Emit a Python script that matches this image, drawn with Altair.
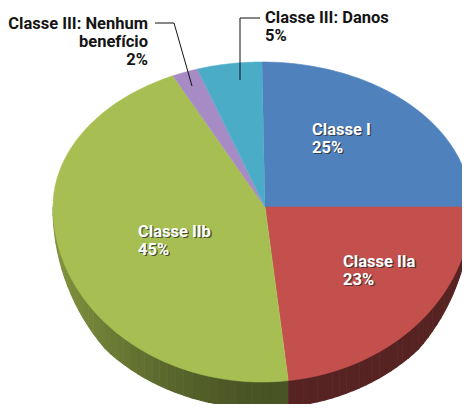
import altair as alt
import pandas as pd

# ---- data ----
categories = ["Classe I", "Classe IIa", "Classe IIb",
              "Classe III: Nenhum benefício", "Classe III: Danos"]
values = [25, 23, 45, 2, 5]
pct_labels = ["25%", "23%", "45%", "2%", "5%"]

# ---- styles ----
top_colors = ["#4f81bd", "#c4504d", "#a7bf52", "#a68bc4", "#4bacc8"]
base_rgb = [(79, 129, 189), (196, 80, 77), (167, 191, 82), (166, 139, 196), (75, 172, 200)]

# ---- layout (window pixel coordinates) ----
W, H = 454, 396
CX, CY = 262, 207       # ellipse centre
AX, AY = 265, 207       # apex of slices
RX, RYT, RYB = 209, 145, 175
THICK = 26
N = 60   # points per arc
M = 40   # side segments per slice

xs = alt.Scale(domain=[8, 8 + W], nice=False, zero=False)
ys = alt.Scale(domain=[8, 8 + H], nice=False, zero=False, reverse=True)

df = pd.DataFrame({
    "cat": categories,
    "value": values,
    "ord": list(range(len(values))),
    "r": [c[0] for c in base_rgb],
    "g": [c[1] for c in base_rgb],
    "b": [c[2] for c in base_rgb],
})

base = (
    alt.Chart(df)
    .transform_window(cum="sum(value)", sort=[{"field": "ord"}], frame=[None, 0])
    .transform_joinaggregate(total="sum(value)")
    .transform_calculate(
        a1="2*PI*(datum.cum-datum.value)/datum.total",
        a2="2*PI*datum.cum/datum.total",
    )
)

# top faces
top = (
    base.transform_calculate(k=f"sequence(-1, {N + 1})")
    .transform_flatten(["k"])
    .transform_calculate(
        t=f"datum.a1 + (datum.a2-datum.a1)*datum.k/{N}",
    )
    .transform_calculate(
        px=f"datum.k < 0 ? {AX} : {CX} + {RX}*sin(datum.t)",
        py=f"datum.k < 0 ? {AY} : {CY} - (cos(datum.t) > 0 ? {RYT} : {RYB})*cos(datum.t)",
    )
    .mark_line(filled=True, clip=True, strokeWidth=0.6)
    .encode(
        x=alt.X("px:Q", scale=xs, axis=None),
        y=alt.Y("py:Q", scale=ys, axis=None),
        color=alt.Color("cat:N", scale=alt.Scale(domain=categories, range=top_colors), legend=None),
        stroke=alt.Stroke("cat:N", scale=alt.Scale(domain=categories, range=top_colors), legend=None),
        order=alt.Order("k:Q"),
    )
)

# side wall (visible lower half), tapering toward the far left/right
side = (
    base.transform_calculate(
        s="max(datum.a1, PI/2)",
        e="min(datum.a2, 3*PI/2)",
    )
    .transform_filter("datum.s < datum.e")
    .transform_calculate(j=f"sequence(0, {M})")
    .transform_flatten(["j"])
    .transform_calculate(p="sequence(0, 4)")
    .transform_flatten(["p"])
    .transform_calculate(
        t0=f"datum.s + (datum.e-datum.s)*datum.j/{M}",
        t1=f"datum.s + (datum.e-datum.s)*(datum.j+1)/{M}",
        key="datum.cat + '_' + datum.j",
    )
    .transform_calculate(
        t="(datum.p == 1 || datum.p == 2) ? datum.t1 : datum.t0",
        tm="(datum.t0 + datum.t1)/2",
    )
    .transform_calculate(
        dy=f"(datum.p >= 2) ? {THICK}*min(1, max(0, -cos(datum.t)*1.5)) : 0",
    )
    .transform_calculate(
        px=f"{CX} + {RX}*sin(datum.t)",
        py=f"{CY} - {RYB}*cos(datum.t) + datum.dy",
        f="0.44 + 0.34*pow(max(0, -sin(datum.tm)), 1.5)",
    )
    .transform_calculate(
        col="'rgb(' + round(datum.r*datum.f) + ',' + round(datum.g*datum.f) + ',' + round(datum.b*datum.f) + ')'"
    )
    .mark_line(filled=True, clip=True, strokeWidth=1.2)
    .encode(
        x=alt.X("px:Q", scale=xs, axis=None),
        y=alt.Y("py:Q", scale=ys, axis=None),
        color=alt.Color("col:N", scale=None, legend=None),
        stroke=alt.Stroke("col:N", scale=None, legend=None),
        detail="key:N",
        order=alt.Order("p:Q"),
    )
)

# leader lines
lead_id = ["n", "n", "n", "d", "d", "d"]
lead_ord = [0, 1, 2, 0, 1, 2]
lead_x = [155, 174, 192, 260, 240, 240]
lead_y = [23, 23, 86, 18, 18, 80]
leaders = (
    alt.Chart(pd.DataFrame({"id": lead_id, "o": lead_ord, "x": lead_x, "y": lead_y}))
    .mark_line(color="#111111", strokeWidth=1)
    .encode(
        x=alt.X("x:Q", scale=xs, axis=None),
        y=alt.Y("y:Q", scale=ys, axis=None),
        detail="id:N",
        order=alt.Order("o:Q"),
    )
)

FONT = "Roboto, Liberation Sans, sans-serif"
FS = 16.5
LH = 18

# labels
in_text = [f"{categories[i]}\n{pct_labels[i]}" for i in range(3)]
in_x = [312, 343, 138]
in_y = [122, 254, 224]
inner_df = pd.DataFrame({"txt": in_text, "x": in_x, "y": in_y})

inner_shadow = alt.Chart(inner_df).mark_text(
    align="left", baseline="top", lineBreak="\n", font=FONT, fontSize=FS,
    fontWeight="bold", color="#2a2a2a", opacity=0.75, lineHeight=LH, dx=1.3, dy=1.3
).encode(x=alt.X("x:Q", scale=xs, axis=None), y=alt.Y("y:Q", scale=ys, axis=None), text="txt:N")

inner = alt.Chart(inner_df).mark_text(
    align="left", baseline="top", lineBreak="\n", font=FONT, fontSize=FS,
    fontWeight="bold", color="white", lineHeight=LH
).encode(x=alt.X("x:Q", scale=xs, axis=None), y=alt.Y("y:Q", scale=ys, axis=None), text="txt:N")

danos_df = pd.DataFrame({"txt": [f"{categories[4]}\n{pct_labels[4]}"], "x": [265], "y": [10]})
danos = alt.Chart(danos_df).mark_text(
    align="left", baseline="top", lineBreak="\n", font=FONT, fontSize=FS,
    fontWeight="bold", color="#141414", lineHeight=LH
).encode(x=alt.X("x:Q", scale=xs, axis=None), y=alt.Y("y:Q", scale=ys, axis=None), text="txt:N")

nen_df = pd.DataFrame({"txt": ["Classe III: Nenhum\nbenefício\n" + pct_labels[3]], "x": [148], "y": [16]})
nenhum = alt.Chart(nen_df).mark_text(
    align="right", baseline="top", lineBreak="\n", font=FONT, fontSize=FS,
    fontWeight="bold", color="#141414", lineHeight=LH
).encode(x=alt.X("x:Q", scale=xs, axis=None), y=alt.Y("y:Q", scale=ys, axis=None), text="txt:N")

chart = (
    alt.layer(side, top, leaders, inner_shadow, inner, danos, nenhum)
    .resolve_scale(color="independent", stroke="independent")
    .properties(width=W, height=H, padding=0)
    .configure_view(stroke=None)
)

chart.save("out.html", embed_options={"renderer": "svg", "actions": False})
